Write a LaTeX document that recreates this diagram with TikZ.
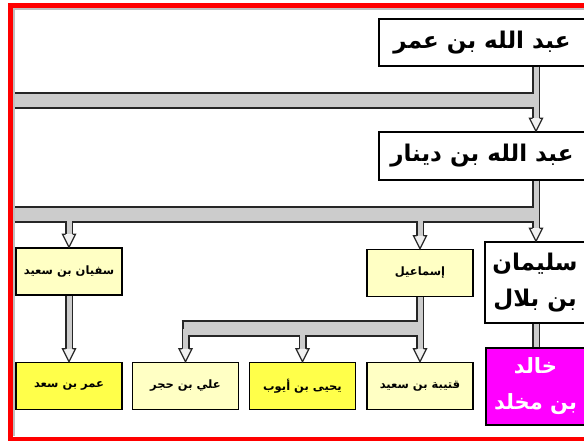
\documentclass[tikz,border=0pt]{standalone}
\usepackage{fontspec}
\newfontfamily\arabicfont[Script=Arabic]{DejaVu Sans}
\TeXXeTstate=1
\usetikzlibrary{calc}
\definecolor{paleyellow}{HTML}{FFFFC4}
\definecolor{lemon}{HTML}{FFFF4A}
\definecolor{khalidpink}{HTML}{FF00FF}
\newcommand{\rtl}[1]{\beginR#1\endR}
\newcommand{\pipehead}[1]{%
  \filldraw[headstyle] ($(#1)+(-3.5,-13)$) -- ++(-3,0) -- (#1) -- ($(#1)+(6.5,-13)$) -- ++(-3,0);}
\tikzset{
  bandout/.style={draw=black!85, line width=17},
  bandin/.style={draw=gray!40, line width=13, shorten <=2},
  stemout/.style={draw=black!85, line width=8},
  stemin/.style={draw=gray!40, line width=5},
  headstyle/.style={fill=gray!12, draw=black!85, line width=1.3, line join=miter},
  personbox/.style={draw=black, line width=1.5, inner sep=0, align=center},
  bigbox/.style={personbox, fill=white, font=\arabicfont\bfseries\fontsize{23}{36}\selectfont},
  palebox/.style={personbox, fill=paleyellow, minimum width=106, minimum height=47,
    font=\arabicfont\bfseries\fontsize{11.5}{13}\selectfont},
  lemonbox/.style={palebox, fill=lemon},
}
\begin{document}
\begin{tikzpicture}[x=1pt,y=-1pt]
  \useasboundingbox (0,0) rectangle (584,441);
  \fill[white] (0,0) rectangle (584,441);

  % the chain on the right
  \node[bigbox, minimum width=206, minimum height=47] (ibnumar) at (482,42.5) {\rtl{عبد الله بن عمر}};
  \node[bigbox, minimum width=206, minimum height=48] (ibndinar) at (482,156) {\rtl{عبد الله بن دينار}};
  \node[bigbox, minimum width=100, minimum height=81] (sulayman) at (535,282.5) {\rtl{سليمان}\\\rtl{بن بلال}};
  \node[bigbox, fill=khalidpink, text=white, minimum width=99, minimum height=77,
    font=\arabicfont\bfseries\fontsize{21}{36}\selectfont] (khalid) at (535.5,386.5) {\rtl{خالد}\\\rtl{بن مخلد}};

  % the other students
  \node[palebox] (sufyan) at (69,271.5) {\rtl{سفيان بن سعيد}};
  \node[palebox] (ismail) at (420,273) {\rtl{إسماعيل}};
  \node[lemonbox] (omar) at (69,386) {\rtl{عمر بن سعد}};
  \node[palebox] (ali) at (185.5,386) {\rtl{علي بن حجر}};
  \node[lemonbox] (yahya) at (302.5,386) {\rtl{يحيى بن أيوب}};
  \node[palebox] (qutayba) at (420,386) {\rtl{قتيبة بن سعيد}};

  % pipes, outline first then the grey core
  \coordinate (spine) at (536,0);
  \coordinate (band1) at (11,100.5);
  \coordinate (band2) at (11,214.5);
  \coordinate (band3) at (181.5,328.5);
  \foreach \lay in {out,in} {
    \draw[band\lay] (band1) -- (spine |- band1);
    \draw[band\lay] (band2) -- (spine |- band2);
    \draw[band\lay] (band3) -- (ismail.south |- band3);
    \draw[stem\lay] (spine |- ibnumar.south) -- ($(spine |- ibndinar.north)+(0,-13)$);
    \draw[stem\lay] (spine |- ibndinar.south) -- ($(spine |- sulayman.north)+(0,-13)$);
    \draw[stem\lay] (spine |- sulayman.south) -- (spine |- khalid.north);
    \draw[stem\lay] (sufyan.north |- band2) -- ($(sufyan.north)+(0,-13)$);
    \draw[stem\lay] (ismail.north |- band2) -- ($(ismail.north)+(0,-13)$);
    \draw[stem\lay] (sufyan.south) -- ($(omar.north)+(0,-13)$);
    \draw[stem\lay] (ismail.south) -- ($(qutayba.north)+(0,-13)$);
    \draw[stem\lay] (ali.north |- band3) -- ($(ali.north)+(0,-13)$);
    \draw[stem\lay] (yahya.north |- band3) -- ($(yahya.north)+(0,-13)$);
  }
  \coordinate (tip1) at (spine |- ibndinar.north);
  \coordinate (tip2) at (spine |- sulayman.north);
  \foreach \t in {tip1,tip2,sufyan.north,ismail.north,omar.north,ali.north,yahya.north,qutayba.north}
    \pipehead{\t};

  % page frame
  \draw[gray!50, line width=2] (590,9.5) -- (13.5,9.5) -- (13.5,436);
  \draw[red, line width=5] (590,5.5) -- (10,5.5) -- (10,439) -- (590,439);
\end{tikzpicture}
\end{document}
